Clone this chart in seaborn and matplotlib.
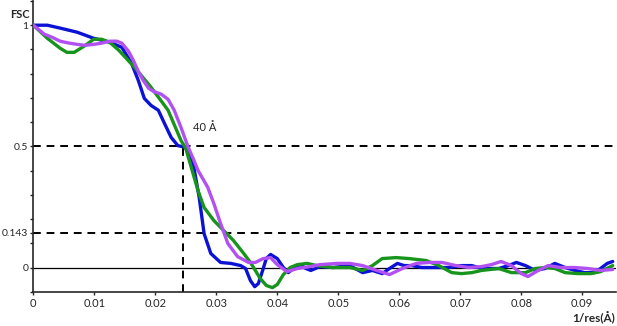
import pandas as pd
import numpy as np
import matplotlib.pyplot as plt
import seaborn as sns

# FSC curves (x in 1/Å)
blue_x = [0.0, 0.0023, 0.0044, 0.0072, 0.0099, 0.0125, 0.0145, 0.0161, 0.0172, 0.0182,
          0.0193, 0.0205, 0.0215, 0.0226, 0.0237, 0.0247, 0.0254, 0.0262, 0.0272, 0.0280,
          0.0291, 0.0307, 0.0324, 0.0340, 0.0348, 0.0356, 0.0363, 0.0369, 0.0376, 0.0382,
          0.0389, 0.0400, 0.0410, 0.0418, 0.0428, 0.0437, 0.0447, 0.0455, 0.0470, 0.0491,
          0.0519, 0.0540, 0.0556, 0.0572, 0.0584, 0.0597, 0.0608, 0.0621, 0.0637, 0.0660,
          0.0681, 0.0702, 0.0719, 0.0735, 0.0746, 0.0763, 0.0779, 0.0792, 0.0807, 0.0823,
          0.0839, 0.0855, 0.0872, 0.0888, 0.0904, 0.0920, 0.0930, 0.0941, 0.0950]
blue_y = [1.0, 1.0, 0.988, 0.971, 0.946, 0.930, 0.909, 0.843, 0.773, 0.698,
          0.669, 0.649, 0.595, 0.537, 0.503, 0.498, 0.483, 0.430, 0.289, 0.140,
          0.058, 0.021, 0.017, 0.008, -0.004, -0.054, -0.079, -0.066, -0.012, 0.037,
          0.054, 0.037, 0.0, -0.021, 0.0, 0.012, -0.004, -0.012, 0.004, 0.0,
          0.008, -0.021, -0.012, -0.025, -0.004, 0.017, 0.008, 0.008, 0.0, 0.0,
          0.0, 0.008, 0.008, -0.004, -0.004, -0.004, 0.008, 0.021, 0.008, -0.012,
          -0.004, 0.017, 0.0, -0.012, -0.021, -0.021, -0.004, 0.017, 0.025]

green_x = [0.0, 0.0023, 0.0044, 0.0055, 0.0067, 0.0083, 0.0099, 0.0112, 0.0125, 0.0140,
           0.0166, 0.0193, 0.0221, 0.0242, 0.0250, 0.0259, 0.0270, 0.0280, 0.0296, 0.0312,
           0.0328, 0.0345, 0.0356, 0.0372, 0.0382, 0.0392, 0.0400, 0.0410, 0.0421, 0.0433,
           0.0449, 0.0465, 0.0491, 0.0519, 0.0540, 0.0556, 0.0572, 0.0595, 0.0616, 0.0644,
           0.0665, 0.0686, 0.0702, 0.0719, 0.0735, 0.0763, 0.0784, 0.0807, 0.0823, 0.0839,
           0.0855, 0.0872, 0.0893, 0.0914, 0.0930, 0.0950]
green_y = [1.0, 0.946, 0.905, 0.888, 0.888, 0.913, 0.942, 0.942, 0.930, 0.897,
           0.826, 0.744, 0.649, 0.525, 0.492, 0.413, 0.318, 0.248, 0.194, 0.153,
           0.112, 0.058, 0.021, -0.045, -0.074, -0.083, -0.070, -0.029, 0.0, 0.012,
           0.017, 0.008, 0.0, 0.0, -0.012, 0.008, 0.037, 0.041, 0.037, 0.029,
           0.008, -0.021, -0.025, -0.021, -0.012, -0.004, -0.021, -0.021, -0.004, 0.0,
           -0.004, -0.021, -0.025, -0.025, -0.017, 0.008]

purple_x = [0.0, 0.0018, 0.0031, 0.0044, 0.0059, 0.0072, 0.0085, 0.0099, 0.0112, 0.0125,
            0.0137, 0.0145, 0.0156, 0.0164, 0.0172, 0.0180, 0.0189, 0.0197, 0.0210, 0.0221,
            0.0231, 0.0242, 0.0254, 0.0262, 0.0270, 0.0286, 0.0296, 0.0307, 0.0319, 0.0335,
            0.0353, 0.0364, 0.0377, 0.0389, 0.0400, 0.0416, 0.0433, 0.0454, 0.0470, 0.0498,
            0.0519, 0.0540, 0.0563, 0.0584, 0.0605, 0.0628, 0.0649, 0.0670, 0.0693, 0.0714,
            0.0735, 0.0751, 0.0767, 0.0784, 0.0800, 0.0811, 0.0828, 0.0844, 0.0865, 0.0888,
            0.0909, 0.0930, 0.0950]
purple_y = [1.0, 0.963, 0.950, 0.934, 0.926, 0.921, 0.917, 0.921, 0.926, 0.934,
            0.934, 0.926, 0.893, 0.855, 0.810, 0.773, 0.740, 0.727, 0.715, 0.694,
            0.649, 0.579, 0.496, 0.450, 0.401, 0.331, 0.264, 0.182, 0.099, 0.045,
            0.021, 0.021, 0.037, 0.041, 0.012, -0.017, -0.004, 0.004, 0.012, 0.017,
            0.017, 0.008, -0.012, -0.029, -0.004, 0.017, 0.021, 0.021, 0.008, 0.0,
            0.004, 0.012, 0.025, 0.008, -0.025, -0.037, -0.012, 0.008, 0.0, 0.0,
            -0.004, -0.012, -0.008]

res_cut = 0.0246  # 40 Å
y_labels = {0: "0", 0.143: "0.143", 0.5: "0.5", 1: "1"}

df = pd.concat([
    pd.DataFrame({"x": blue_x, "y": blue_y, "map": "blue"}),
    pd.DataFrame({"x": green_x, "y": green_y, "map": "green"}),
    pd.DataFrame({"x": purple_x, "y": purple_y, "map": "purple"}),
])

sns.set_style("ticks")
plt.rcParams["font.family"] = ["Lato", "DejaVu Sans"]

fig, ax = plt.subplots(figsize=(6.17, 3.26), dpi=100)
fig.subplots_adjust(left=0.054, right=0.998, bottom=0.105, top=0.997)

# reference lines
ax.axhline(0, color="black", lw=0.9, zorder=1)
ax.axhline(0.5, color="black", lw=1.4, ls=(0, (4, 3)), zorder=1)
ax.axhline(0.143, color="black", lw=1.4, ls=(0, (4, 3)), zorder=1)
ax.plot([res_cut, res_cut], [-0.1, 0.5], color="black", lw=1.4, ls=(0, (4, 3)), zorder=1)

sns.lineplot(data=df, x="x", y="y", hue="map", estimator=None, sort=False,
             palette={"blue": "#0b12d6", "green": "#17941b", "purple": "#b250f2"},
             lw=2.4, legend=False, ax=ax, zorder=3,
             solid_joinstyle="round", solid_capstyle="round")

ax.set_xlim(0, 0.0955)
ax.set_ylim(-0.1, 1.1)
ax.set_xticks(np.arange(0, 0.095, 0.01))
ax.set_xticklabels(["0", "0.01", "0.02", "0.03", "0.04", "0.05", "0.06", "0.07", "0.08", "0.09"])
ax.set_yticks(list(y_labels.keys()))
ax.set_yticklabels(list(y_labels.values()))
ax.set_yticks(np.arange(-0.1, 1.11, 0.1), minor=True)
ax.tick_params(axis="x", labelsize=8, length=2.5, width=1, pad=2)
ax.tick_params(axis="y", labelsize=7.5, length=2.5, width=1, pad=1)
ax.tick_params(axis="y", which="minor", length=2.5, width=1)
ax.set_xlabel("")
ax.set_ylabel("")
sns.despine(ax=ax)
ax.spines["left"].set_linewidth(1.2)
ax.spines["bottom"].set_linewidth(1.2)

ax.text(0.0262, 0.565, "40 Å", fontsize=8)
fig.text(0.016, 0.945, "FSC", fontsize=8, fontweight="bold")
fig.text(0.997, 0.012, "1/res(Å)", fontsize=8.5, fontweight="bold", ha="right")

plt.savefig("out.png", dpi=100)
